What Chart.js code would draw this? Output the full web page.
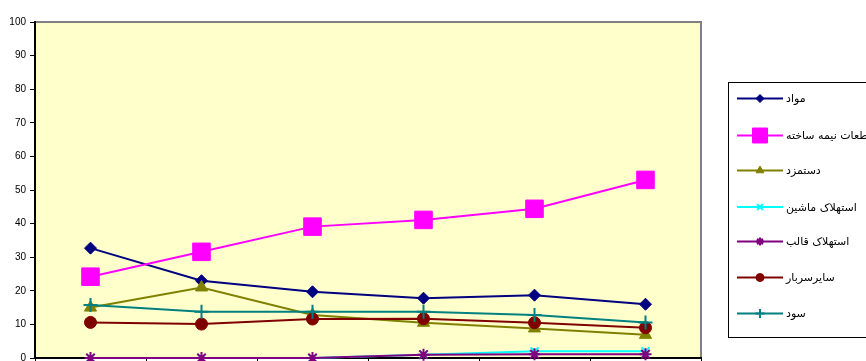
<!DOCTYPE html>
<html lang="fa">
<head>
    <meta charset="UTF-8">
    <title>Cost chart</title>
    <script src="https://cdn.jsdelivr.net/npm/chart.js@4.4.1/dist/chart.umd.min.js"></script>
    <style>
        html, body { margin: 0; padding: 0; background: #ffffff; }
        #chart-container { width: 866px; height: 361px; position: relative; }
    </style>
</head>
<body>
<div id="chart-container">
    <canvas id="chartCanvas"></canvas>
</div>

<script>
    // data
    const categories = ['1', '2', '3', '4', '5', '6'];
    const yTicks = [0, 10, 20, 30, 40, 50, 60, 70, 80, 90, 100];

    const seriesNames = ['مواد', 'قطعات نیمه ساخته', 'دستمزد', 'استهلاک ماشین', 'استهلاک قالب', 'سایرسربار', 'سود'];

    const mavad = [32.7, 23.0, 19.7, 17.8, 18.7, 16.0];
    const ghataat = [24.2, 31.6, 39.1, 41.1, 44.4, 53.0];
    const dastmozd = [15.0, 21.0, 12.8, 10.5, 8.8, 6.9];
    const estehlakMashin = [0, 0, 0, 1.0, 2.0, 2.0];
    const estehlakGhaleb = [0, 0, 0, 1.0, 1.1, 1.1];
    const sayerSarbar = [10.6, 10.1, 11.6, 11.7, 10.5, 9.0];
    const sood = [15.8, 13.8, 13.8, 13.8, 12.8, 10.6];

    const seriesData = [mavad, ghataat, dastmozd, estehlakMashin, estehlakGhaleb, sayerSarbar, sood];

    // look of each series
    const colors = ['#000080', '#ff00ff', '#808000', '#00ffff', '#800080', '#800000', '#008080'];
    const styles = ['rectRot', 'rect', 'triangle', 'crossRot', 'star', 'circle', 'cross'];
    const radii = [6, 12.4, 7, 5.5, 6, 6, 7];
    const legendRadii = [4, 10.6, 4.5, 4, 4, 4, 4.5];

    const datasets = seriesData.map(function (values, i) {
        return {
            label: seriesNames[i],
            data: values,
            borderColor: colors[i],
            backgroundColor: colors[i],
            borderWidth: 2,
            pointStyle: styles[i],
            pointRadius: radii[i],
            pointHoverRadius: radii[i],
            pointBackgroundColor: colors[i],
            pointBorderColor: colors[i],
            pointBorderWidth: (styles[i] === 'cross' || styles[i] === 'crossRot' || styles[i] === 'star') ? 2 : 1,
            tension: 0,
            fill: false,
            clip: false,
            order: 7 - i   // later series drawn on top, like the original
        };
    });

    // plot background and grey frame
    const plotFrame = {
        id: 'plotFrame',
        beforeDraw(chart) {
            const a = chart.chartArea;
            const c = chart.ctx;
            c.save();
            c.fillStyle = '#ffffcc';
            c.fillRect(a.left, a.top, a.right - a.left, a.bottom - a.top);
            c.strokeStyle = '#808080';
            c.lineWidth = 2;
            c.beginPath();
            c.moveTo(a.left, a.top);
            c.lineTo(a.right, a.top);
            c.lineTo(a.right, a.bottom);
            c.stroke();
            c.restore();
        }
    };

    // legend on the right, line sample with marker
    const sideLegend = {
        id: 'sideLegend',
        afterDraw(chart) {
            const c = chart.ctx;
            const boxLeft = 728.5, boxTop = 82.5, boxBottom = 337.5;
            c.save();
            c.strokeStyle = '#000000';
            c.lineWidth = 1;
            c.strokeRect(boxLeft, boxTop, 200, boxBottom - boxTop);

            const rowY = [98.5, 135.5, 170.5, 207, 241.5, 277.5, 313.5];
            chart.data.datasets.forEach(function (ds, i) {
                const y = rowY[i];
                c.strokeStyle = ds.borderColor;
                c.lineWidth = 2;
                c.beginPath();
                c.moveTo(737, y);
                c.lineTo(783, y);
                c.stroke();

                c.fillStyle = ds.pointBackgroundColor;
                c.strokeStyle = ds.pointBorderColor;
                c.lineWidth = ds.pointBorderWidth;
                Chart.helpers.drawPoint(c, {
                    pointStyle: ds.pointStyle,
                    radius: legendRadii[i],
                    rotation: 0,
                    borderWidth: ds.pointBorderWidth
                }, 760, y);

                c.fillStyle = '#000000';
                c.font = '11px "DejaVu Sans", sans-serif';
                c.textAlign = 'left';
                c.textBaseline = 'middle';
                c.fillText(ds.label, 786, y + 1);
            });
            c.restore();
        }
    };

    const ctx = document.getElementById('chartCanvas').getContext('2d');
    const myChart = new Chart(ctx, {
        type: 'line',
        data: {
            labels: categories,
            datasets: datasets
        },
        options: {
            responsive: true,
            maintainAspectRatio: false,
            animation: false,
            events: [],
            layout: {
                autoPadding: false,
                padding: { top: 22, right: 165, bottom: 0, left: 0 }
            },
            plugins: {
                legend: { display: false },
                tooltip: { enabled: false },
                title: { display: false }
            },
            scales: {
                x: {
                    offset: true,
                    grid: {
                        offset: true,
                        drawOnChartArea: false,
                        tickLength: 3,
                        color: '#000000',
                        lineWidth: 1
                    },
                    border: { color: '#000000', width: 2 },
                    ticks: { display: false },
                    afterFit(scale) {
                        scale.height = 3;
                        scale.paddingLeft = 0;
                        scale.paddingRight = 0;
                    }
                },
                y: {
                    min: 0,
                    max: 100,
                    afterBuildTicks(scale) {
                        scale.ticks = yTicks.map(function (v) { return { value: v }; });
                    },
                    grid: {
                        drawOnChartArea: false,
                        tickLength: 5,
                        color: '#000000',
                        lineWidth: 1
                    },
                    border: { color: '#000000', width: 2 },
                    ticks: {
                        padding: 4,
                        color: '#000000',
                        font: { family: '"Liberation Sans", Arial, sans-serif', size: 10 }
                    },
                    afterFit(scale) {
                        scale.width = 35;
                        scale.paddingTop = 0;
                        scale.paddingBottom = 0;
                    }
                }
            }
        },
        plugins: [plotFrame, sideLegend]
    });
</script>
</body>
</html>
